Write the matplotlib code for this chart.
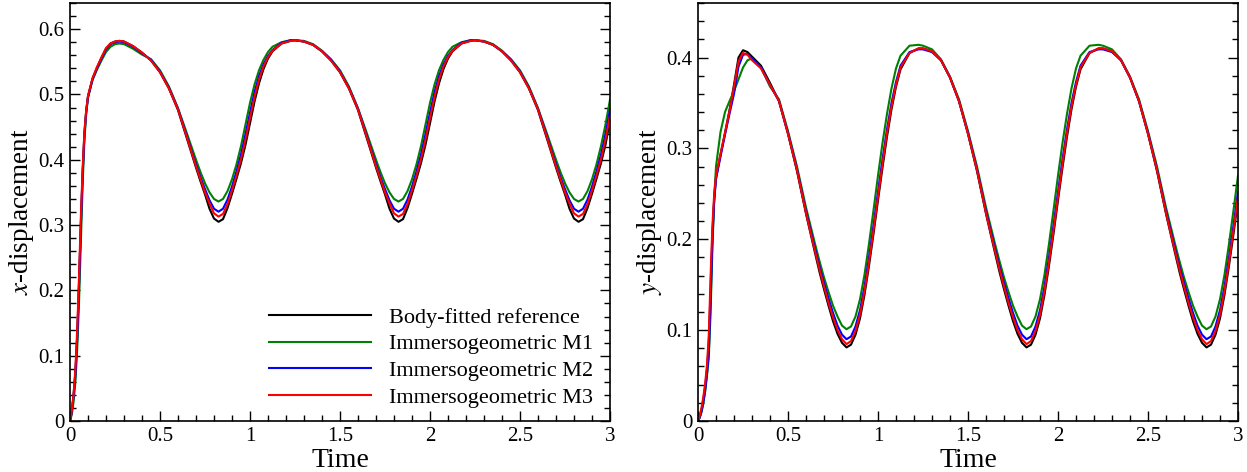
import matplotlib
matplotlib.use('Agg')
import matplotlib.pyplot as plt
from matplotlib.ticker import MultipleLocator, FormatStrFormatter

plt.rcParams['font.family'] = ['Liberation Serif', 'DejaVu Serif']
plt.rcParams['mathtext.fontset'] = 'stix'

# --- data ------------------------------------------------------------------
time = [0, 0.01, 0.02, 0.03, 0.04, 0.05, 0.06, 0.07, 0.08, 0.09, 0.10,
        0.125, 0.15, 0.175, 0.2, 0.225, 0.25, 0.275, 0.3, 0.35, 0.4,
        0.45, 0.5, 0.55, 0.6, 0.65, 0.675, 0.7, 0.725, 0.75, 0.775, 0.8,
        0.825, 0.85, 0.875, 0.9, 0.925, 0.95, 0.975, 1.0, 1.025, 1.05, 1.075,
        1.1, 1.125, 1.175, 1.225,
        1.25, 1.3, 1.35, 1.4, 1.45, 1.5, 1.55, 1.6, 1.65, 1.675, 1.7, 1.725,
        1.75, 1.775, 1.8, 1.825, 1.85, 1.875, 1.9, 1.925, 1.95, 1.975, 2.0,
        2.025, 2.05, 2.075, 2.1, 2.125, 2.175, 2.225,
        2.25, 2.3, 2.35, 2.4, 2.45, 2.5, 2.55, 2.6, 2.65, 2.675, 2.7, 2.725,
        2.75, 2.775, 2.8, 2.825, 2.85, 2.875, 2.9, 2.925, 2.95, 2.975, 3.0]

# x-displacement
xd_ref = [0, .015, .04, .075, .13, .21, .30, .38, .44, .475, .497,
          .524, .541, .556, .570, .578, .581, .582, .581, .574, .564,
          .552, .534, .509, .476, .432, .410, .388, .367, .347, .325, .310,
          .305, .309, .326, .348, .371, .395, .423, .456, .489, .517, .539,
          .555, .566, .578, .582,
          .583, .581, .576, .566, .552, .534, .509, .476, .432, .410, .388, .367,
          .347, .325, .310, .305, .309, .326, .348, .371, .395, .423, .456,
          .489, .517, .539, .555, .566, .578, .582,
          .583, .581, .576, .566, .552, .534, .509, .476, .432, .410, .388, .367,
          .347, .325, .310, .305, .309, .326, .348, .371, .395, .423, .460]
xd_m1 = [0, .01, .03, .06, .11, .18, .27, .36, .43, .47, .495,
         .522, .538, .552, .565, .573, .577, .578, .577, .570, .561,
         .554, .537, .512, .479, .440, .420, .400, .381, .364, .350, .340,
         .336, .340, .352, .370, .393, .421, .454, .487, .515, .537, .553,
         .565, .573, .580, .583,
         .583, .582, .577, .567, .554, .537, .512, .479, .440, .420, .400, .381,
         .364, .350, .340, .336, .340, .352, .370, .393, .421, .454, .487,
         .515, .537, .553, .565, .573, .580, .583,
         .583, .582, .577, .567, .554, .537, .512, .479, .440, .420, .400, .381,
         .364, .350, .340, .336, .340, .352, .370, .393, .421, .454, .492]
xd_m2 = [0, .014, .038, .07, .125, .205, .295, .375, .437, .473, .496,
         .523, .540, .555, .569, .577, .580, .581, .580, .573, .563,
         .553, .535, .510, .478, .436, .414, .393, .373, .355, .338, .325,
         .3205, .325, .339, .359, .382, .408, .439, .472, .503, .528, .546,
         .559, .568, .579, .583,
         .583, .581, .576, .566, .553, .535, .510, .478, .436, .414, .393, .373,
         .355, .338, .325, .3205, .325, .339, .359, .382, .408, .439, .472,
         .503, .528, .546, .559, .568, .579, .583,
         .583, .581, .576, .566, .553, .535, .510, .478, .436, .414, .393, .373,
         .355, .338, .325, .3205, .325, .339, .359, .382, .408, .439, .477]
xd_m3 = [0, .016, .042, .08, .14, .22, .31, .385, .443, .476, .498,
         .525, .542, .557, .571, .578, .581, .582, .581, .574, .564,
         .552, .534, .509, .477, .434, .412, .390, .370, .350, .333, .318,
         .313, .317, .332, .353, .376, .401, .431, .464, .496, .523, .543,
         .557, .567, .578, .582,
         .583, .581, .576, .566, .552, .534, .509, .477, .434, .412, .390, .370,
         .350, .333, .318, .313, .317, .332, .353, .376, .401, .431, .464,
         .496, .523, .543, .557, .567, .578, .582,
         .583, .581, .576, .566, .552, .534, .509, .477, .434, .412, .390, .370,
         .350, .333, .318, .313, .317, .332, .353, .376, .401, .431, .468]

# y-displacement
yd_ref = [0, .005, .013, .024, .038, .057, .085, .145, .205, .245, .268,
          .293, .317, .342, .370, .400, .408, .406, .401, .391, .372,
          .352, .316, .275, .228, .185, .164, .145, .127, .110, .096, .086,
          .081, .084, .095, .113, .139, .171, .206, .243, .279, .313, .343,
          .368, .387, .405, .410,
          .410, .407, .397, .378, .352, .316, .275, .228, .185, .164, .145, .127,
          .110, .096, .086, .081, .084, .095, .113, .139, .171, .206, .243,
          .279, .313, .343, .368, .387, .405, .410,
          .410, .407, .397, .378, .352, .316, .275, .228, .185, .164, .145, .127,
          .110, .096, .086, .081, .084, .095, .113, .139, .171, .206, .243]
yd_m1 = [0, .004, .010, .020, .033, .050, .070, .12, .19, .245, .28,
         .318, .340, .352, .363, .376, .389, .397, .399, .389, .368,
         .354, .319, .280, .235, .195, .176, .158, .142, .127, .115, .105,
         .101, .104, .115, .134, .161, .195, .232, .270, .306, .338, .366,
         .388, .402, .413, .414,
         .413, .409, .398, .379, .354, .319, .280, .235, .195, .176, .158, .142,
         .127, .115, .105, .101, .104, .115, .134, .161, .195, .232, .270,
         .306, .338, .366, .388, .402, .413, .414,
         .413, .409, .398, .379, .354, .319, .280, .235, .195, .176, .158, .142,
         .127, .115, .105, .101, .104, .115, .134, .161, .195, .232, .270]
yd_m2 = [0, .004, .011, .021, .034, .052, .075, .13, .2, .242, .266,
         .291, .315, .338, .360, .390, .403, .404, .399, .389, .370,
         .352, .317, .277, .231, .190, .170, .152, .135, .119, .105, .095,
         .090, .093, .104, .122, .148, .180, .215, .252, .288, .321, .350,
         .373, .391, .406, .409,
         .409, .406, .397, .378, .352, .317, .277, .231, .190, .170, .152, .135,
         .119, .105, .095, .090, .093, .104, .122, .148, .180, .215, .252,
         .288, .321, .350, .373, .391, .406, .409,
         .409, .406, .397, .378, .352, .317, .277, .231, .190, .170, .152, .135,
         .119, .105, .095, .090, .093, .104, .122, .148, .180, .215, .252]
yd_m3 = [0, .006, .015, .027, .042, .062, .095, .16, .215, .25, .27,
         .294, .317, .341, .368, .396, .405, .403, .397, .388, .370,
         .352, .316, .276, .229, .187, .167, .148, .130, .114, .100, .090,
         .0846, .088, .099, .117, .143, .175, .210, .247, .283, .317, .346,
         .370, .389, .405, .410,
         .410, .407, .397, .378, .352, .316, .276, .229, .187, .167, .148, .130,
         .114, .100, .090, .0846, .088, .099, .117, .143, .175, .210, .247,
         .283, .317, .346, .370, .389, .405, .410,
         .410, .407, .397, .378, .352, .316, .276, .229, .187, .167, .148, .130,
         .114, .100, .090, .0846, .088, .099, .117, .143, .175, .210, .247]

labels = ['Body-fitted reference', 'Immersogeometric M1',
          'Immersogeometric M2', 'Immersogeometric M3']
colors = ['black', '#008000', '#0000ff', '#ff0000']

# --- figure -----------------------------------------------------------------
fig = plt.figure(figsize=(12.47, 4.72), dpi=100)
ax1 = fig.add_axes([70 / 1247, 51 / 472, 540 / 1247, 418 / 472])
ax2 = fig.add_axes([698 / 1247, 51 / 472, 540 / 1247, 418 / 472])

for ax, series, ylab, ytop in [
    (ax1, [xd_ref, xd_m1, xd_m2, xd_m3], r'$x$-displacement', 0.64),
    (ax2, [yd_ref, yd_m1, yd_m2, yd_m3], r'$y$-displacement', 0.46),
]:
    for vals, lab, col in zip(series, labels, colors):
        ax.plot(time, vals, color=col, lw=1.5, label=lab)
    ax.set_xlim(0, 3)
    ax.set_ylim(0, ytop)
    ax.xaxis.set_major_locator(MultipleLocator(0.5))
    ax.xaxis.set_minor_locator(MultipleLocator(0.1))
    ax.yaxis.set_major_locator(MultipleLocator(0.1))
    ax.yaxis.set_minor_locator(MultipleLocator(0.02))
    ax.xaxis.set_major_formatter(FormatStrFormatter('%g'))
    ax.yaxis.set_major_formatter(FormatStrFormatter('%g'))
    ax.tick_params(which='both', direction='in', left=True, right=True,
                   top=False, bottom=True, labelsize=15, pad=4)
    ax.tick_params(which='major', length=7, width=1)
    ax.tick_params(which='minor', length=4.5, width=1)
    for sp in ax.spines.values():
        sp.set_linewidth(1.2)
    ax.set_xlabel('Time', fontsize=20, labelpad=1.5)
    ax.set_ylabel(ylab, fontsize=19.5, labelpad=2)

ax1.legend(loc='lower right', bbox_to_anchor=(0.985, 0.01), frameon=False,
           fontsize=16, handlelength=4.6, handletextpad=0.8,
           labelspacing=0.28, borderaxespad=0)

fig.savefig('out.png', dpi=100)
